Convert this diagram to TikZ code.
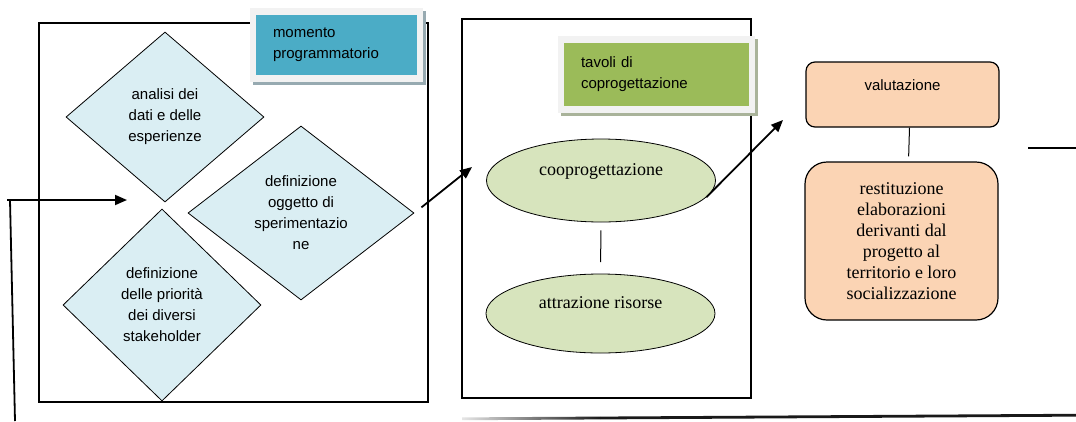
\documentclass[tikz,border=0pt]{standalone}
\usepackage{fontspec}
\setmainfont{Liberation Serif}
\newfontfamily\arialf{Liberation Sans}
\usetikzlibrary{shapes.geometric,shadows,arrows.meta}
\definecolor{diamfill}{HTML}{DAEEF3}
\definecolor{ellfill}{HTML}{D7E4BD}
\definecolor{peach}{HTML}{FBD4B4}
\definecolor{tealbox}{HTML}{4BACC6}
\definecolor{greenbox}{HTML}{9BBB59}
\definecolor{framegray}{HTML}{F2F2F2}
\definecolor{tealshadow}{HTML}{97AAB1}
\definecolor{greenshadow}{HTML}{A9B39A}
\begin{document}
\begin{tikzpicture}[x=1pt,y=-1pt,
	sanst/.style={font=\arialf\fontsize{15}{21}\selectfont},
	serift/.style={font=\fontsize{18}{21}\selectfont},
	groupbox/.style={draw,line width=1.3pt,inner sep=0pt},
	titlebox/.style 2 args={sanst,fill=framegray,align=left,inner xsep=23pt,inner ysep=0pt,
		path picture={\fill[#1] ([xshift=6pt,yshift=-7pt]path picture bounding box.north west) rectangle ([xshift=-6pt,yshift=7pt]path picture bounding box.south east);},
		drop shadow={shadow xshift=2.5pt,shadow yshift=-3pt,fill=#2,opacity=1}},
	diam/.style={diamond,draw,fill=diamfill,line width=0.8pt,sanst,align=center,inner sep=0pt,aspect=1.3},
	ell/.style={ellipse,draw,fill=ellfill,line width=0.8pt,serift,minimum width=229pt,minimum height=81pt,inner sep=0pt},
	evalbox/.style={draw,fill=peach,line width=1.2pt,inner sep=0pt,minimum width=193pt},
	flow/.style={line width=1.8pt,-{Triangle[length=12pt,width=10pt]}},
	link/.style={line width=1pt}]
	\useasboundingbox (0,0) rectangle (1076,421);
	\node[groupbox,minimum width=389pt,minimum height=379pt] (boxL) at (233.5,212.5) {};
	\node[groupbox,minimum width=289pt,minimum height=379pt] (boxM) at (606.5,208.5) {};
	\node[titlebox={tealbox}{tealshadow},text width=127pt,minimum height=74pt] (tMom) at (336.5,45) {momento\\programmatorio};
	\node[titlebox={greenbox}{greenshadow},text width=151pt,minimum height=77pt] (tTav) at (656.5,74.5) {tavoli di\\coprogettazione};
	\node[diam,minimum width=198pt,minimum height=170pt] (dA) at (165,117) {analisi dei\\dati e delle\\esperienze};
	\node[diam,minimum width=226pt,minimum height=174pt] (dB) at (301,213) {definizione\\oggetto di\\sperimentazio\\ne};
	\node[diam,minimum width=198pt,minimum height=192pt] (dC) at (162,305) {definizione\\delle priorità\\dei diversi\\stakeholder};
	\node[ell,minimum height=83pt] (coop) at (601,180.5) {\raisebox{5pt}[0pt][0pt]{cooprogettazione}};
	\node[ell,minimum height=79pt] (attr) at (600.5,313.5) {\raisebox{5.5pt}[0pt][0pt]{attrazione risorse}};
	\node[evalbox,sanst,rounded corners=9pt,minimum height=65pt] (valu) at (902.5,94.5) {\raisebox{4pt}[0pt][0pt]{valutazione}};
	\node[evalbox,serift,align=center,rounded corners=22pt,minimum height=158pt] (rest) at (901.5,241) {restituzione\\elaborazioni\\derivanti dal\\progetto al\\territorio e loro\\socializzazione};
	\coordinate (fbBot) at (15,421);
	\coordinate (fbTop) at (10,200);
	\coordinate (fbStart) at (7,200);
	\coordinate (fbIn) at (127,200);
	\coordinate (inM) at (472,167);
	\coordinate (inV) at (783,120);
	\coordinate (outA) at (1028,148);
	\coordinate (outB) at (1076,148);
	\draw[line width=1.8pt] (fbBot) -- (fbTop);
	\draw[flow] (fbStart) -- (fbIn);
	\draw[flow,shorten <=9pt] (dB.east) -- (inM);
	\draw[flow] (coop.-9) -- (inV);
	\draw[link,shorten <=8pt,shorten >=11.5pt] (coop.south) -- (attr.north);
	\draw[link,shorten >=5pt] ([xshift=7pt]valu.south) -- ([xshift=7pt]rest.north);
	\draw[line width=1.3pt] (outA) -- (outB);
	\shade[left color=gray!20,right color=black!90] (462,417.4) -- (600,416.6) -- (600,419.4) -- (462,420.2) -- cycle;
	\fill[black!90] (600,416.6) -- (1076,413.8) -- (1076,416.6) -- (600,419.4) -- cycle;
\end{tikzpicture}
\end{document}
